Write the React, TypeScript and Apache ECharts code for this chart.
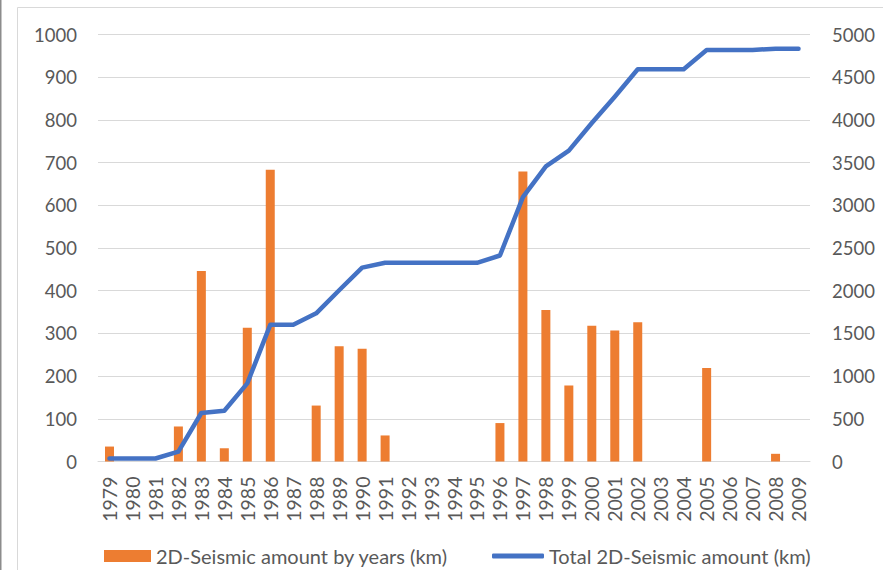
import React, { useEffect, useRef } from "react";
import * as echarts from "echarts";

const years = [
  "1979", "1980", "1981", "1982", "1983", "1984", "1985", "1986", "1987", "1988",
  "1989", "1990", "1991", "1992", "1993", "1994", "1995", "1996", "1997", "1998",
  "1999", "2000", "2001", "2002", "2003", "2004", "2005", "2006", "2007", "2008", "2009",
];

const yearlyAmount = [
  35, 0, 0, 82, 446, 31, 313, 683, 0, 131,
  270, 264, 61, 0, 0, 0, 0, 90, 679, 355,
  178, 318, 307, 326, 0, 0, 219, 0, 0, 18, 0,
];

const totalAmount = [
  35, 35, 35, 115, 568, 595, 915, 1600, 1600, 1735,
  2005, 2270, 2327, 2327, 2327, 2327, 2327, 2412, 3095, 3455,
  3640, 3963, 4272, 4593, 4593, 4593, 4819, 4819, 4819, 4834, 4834,
];

const barName = "2D-Seismic amount by years (km)";
const lineName = "Total 2D-Seismic amount (km)";

const FONT = "Lato";
const TEXT = "#595959";
const GRID = "#d9d9d9";

export default function App() {
  const ref = useRef<HTMLDivElement>(null);
  useEffect(() => {
    if (!ref.current) return;
    const chart = echarts.init(ref.current, undefined, { renderer: "svg" });
    chart.setOption({
      animation: false,
      backgroundColor: "#ffffff",
      textStyle: { fontFamily: FONT, color: TEXT },
      grid: { left: 98, right: 73, top: 34.5, bottom: 108.5, containLabel: false },
      graphic: [
        { type: "line", shape: { x1: 0.75, y1: 0, x2: 0.75, y2: 570 }, style: { stroke: "#8c8c8c", lineWidth: 1.5 } },
        { type: "rect", shape: { x: 17.5, y: 7.5, width: 900, height: 600 }, style: { fill: "none", stroke: GRID, lineWidth: 1 } },
      ],
      legend: [
        {
          data: [{ name: barName, icon: "rect" }],
          left: 104,
          top: 545,
          itemWidth: 47,
          itemHeight: 12,
          itemGap: 5,
          padding: 0,
          textStyle: { fontFamily: FONT, fontSize: 20, lineHeight: 22, color: TEXT },
        },
        {
          data: [{ name: lineName, icon: "roundRect", itemStyle: { color: "#4472C4" } }],
          left: 492,
          top: 545,
          itemWidth: 52,
          itemHeight: 5,
          padding: 0,
          textStyle: { fontFamily: FONT, fontSize: 20, lineHeight: 22, color: TEXT },
        },
      ],
      xAxis: {
        type: "category",
        data: years,
        boundaryGap: true,
        axisLine: { show: true, lineStyle: { color: GRID, width: 1 } },
        axisTick: { show: false },
        axisLabel: { rotate: 90, margin: 15, fontSize: 19.5, color: TEXT, fontFamily: FONT, interval: 0 },
      },
      yAxis: [
        {
          type: "value",
          min: 0,
          max: 1000,
          interval: 100,
          axisLine: { show: false },
          axisTick: { show: false },
          splitLine: { lineStyle: { color: GRID, width: 1 } },
          axisLabel: { margin: 21, fontSize: 18.5, color: TEXT, fontFamily: FONT, formatter: (v: number) => String(v) },
        },
        {
          type: "value",
          min: 0,
          max: 5000,
          interval: 500,
          axisLine: { show: false },
          axisTick: { show: false },
          splitLine: { show: false },
          axisLabel: { margin: 22, fontSize: 18.5, color: TEXT, fontFamily: FONT, formatter: (v: number) => String(v) },
        },
      ],
      series: [
        {
          name: barName,
          type: "bar",
          data: yearlyAmount,
          barWidth: 9,
          itemStyle: { color: "#ED7D31" },
          yAxisIndex: 0,
        },
        {
          name: lineName,
          type: "line",
          data: totalAmount,
          yAxisIndex: 1,
          symbol: "none",
          showSymbol: false,
          lineStyle: { color: "#4472C4", width: 4.5, cap: "round", join: "round" },
          itemStyle: { color: "#4472C4" },
        },
      ],
    });
    return () => chart.dispose();
  }, []);
  return (
    <div
      ref={ref}
      style={{ position: "fixed", left: 0, top: 0, width: 883, height: 570 }}
    />
  );
}
